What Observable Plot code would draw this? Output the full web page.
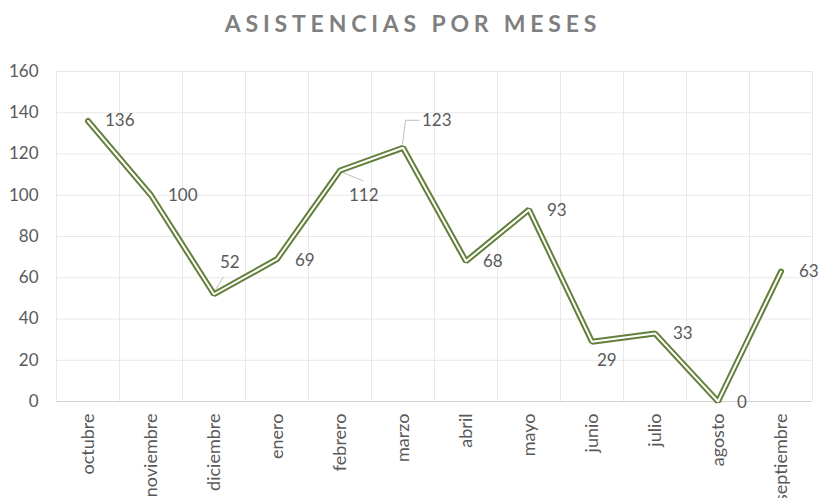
<!DOCTYPE html>
<html>
<head>
<meta charset="utf-8">
<script src="https://cdn.jsdelivr.net/npm/d3@7"></script>
<script src="https://cdn.jsdelivr.net/npm/@observablehq/plot@0.6"></script>
<style>
  body { margin: 0; background: #fff; }
  #title { height: 55px; display: flex; align-items: flex-start; justify-content: center;
    font-family: Lato, "Open Sans", sans-serif; font-weight: 700; font-size: 23px;
    letter-spacing: 4.8px; color: #7f7f7f; padding-top: 9px; box-sizing: border-box; padding-left: 6px; }
  svg g[aria-label="x-axis tick label"] text { font-size: 18px; }
</style>
</head>
<body>
<div id="title">ASISTENCIAS POR MESES</div>
<div id="chart"></div>
<script>
const months = ["octubre","noviembre","diciembre","enero","febrero","marzo","abril","mayo","junio","julio","agosto","septiembre"];
const values = [136,100,52,69,112,123,68,93,29,33,0,63];
const yTicks = [0,20,40,60,80,100,120,140,160];

// label placement (pixel offsets from each point) — layout only
const labelOffsets = [[17,0],[17,0],[6,-32],[18,1],[9,25],[19,-27],[17,0],[18,1],[5,19],[18,0],[19,1],[18,0]];
const leaderIdx = [2,4,5];

const lineColor = "#63803a";
const textColor = "#595959";
const gridColor = "#e8e8e8";

const idx = months.map((_, i) => i);

const labelMarks = idx.map(i => Plot.text([i], {
  x: d => d, y: d => values[d], text: d => String(values[d]),
  dx: labelOffsets[i][0], dy: labelOffsets[i][1], textAnchor: "start",
  fill: textColor, fontSize: 17
}));

const leaders = (index, scales) => {
  const g = d3.create("svg:g").attr("stroke", "#bfbfbf").attr("fill", "none").attr("stroke-width", 1);
  for (const i of leaderIdx) {
    const px = scales.x(i), py = scales.y(values[i]);
    const [dx, dy] = labelOffsets[i];
    let pts;
    if (dy < -20 && dx > 10) pts = [[px, py - 3], [px + 3, py + dy], [px + dx - 2, py + dy]];
    else if (dy < 0) pts = [[px + 2, py - 4], [px + dx + 4, py + dy + 15]];
    else pts = [[px + 2, py + 2], [px + dx + 15, py + dy - 14]];
    g.append("path").attr("d", d3.line()(pts));
  }
  return g.node();
};

const chart = Plot.plot({
  width: 820, height: 443,
  marginTop: 16, marginBottom: 97, marginLeft: 56, marginRight: 8,
  style: { fontFamily: "Lato, 'Open Sans', sans-serif", fontSize: "17px", color: textColor, background: "white", overflow: "visible" },
  x: { type: "linear", domain: [-0.5, 11.5], ticks: idx, tickFormat: i => months[i],
       tickRotate: -90, tickSize: 0, tickPadding: 12, label: null },
  y: { domain: [0, 160], ticks: yTicks, tickSize: 0, tickPadding: 18, label: null },
  marks: [
    Plot.ruleY(yTicks.filter(t => t > 0), { stroke: gridColor }),
    Plot.ruleX(d3.range(13).map(i => i - 0.5), { stroke: gridColor }),
    Plot.ruleY([0], { stroke: "#d0d0d0" }),
    leaders,
    Plot.line(values, { x: (d, i) => i, y: d => d, stroke: lineColor, strokeWidth: 6, strokeLinejoin: "miter" }),
    Plot.line(values, { x: (d, i) => i, y: d => d, stroke: "white", strokeWidth: 2, strokeLinejoin: "miter" }),
    ...labelMarks
  ]
});
document.getElementById("chart").appendChild(chart);
</script>
</body>
</html>
